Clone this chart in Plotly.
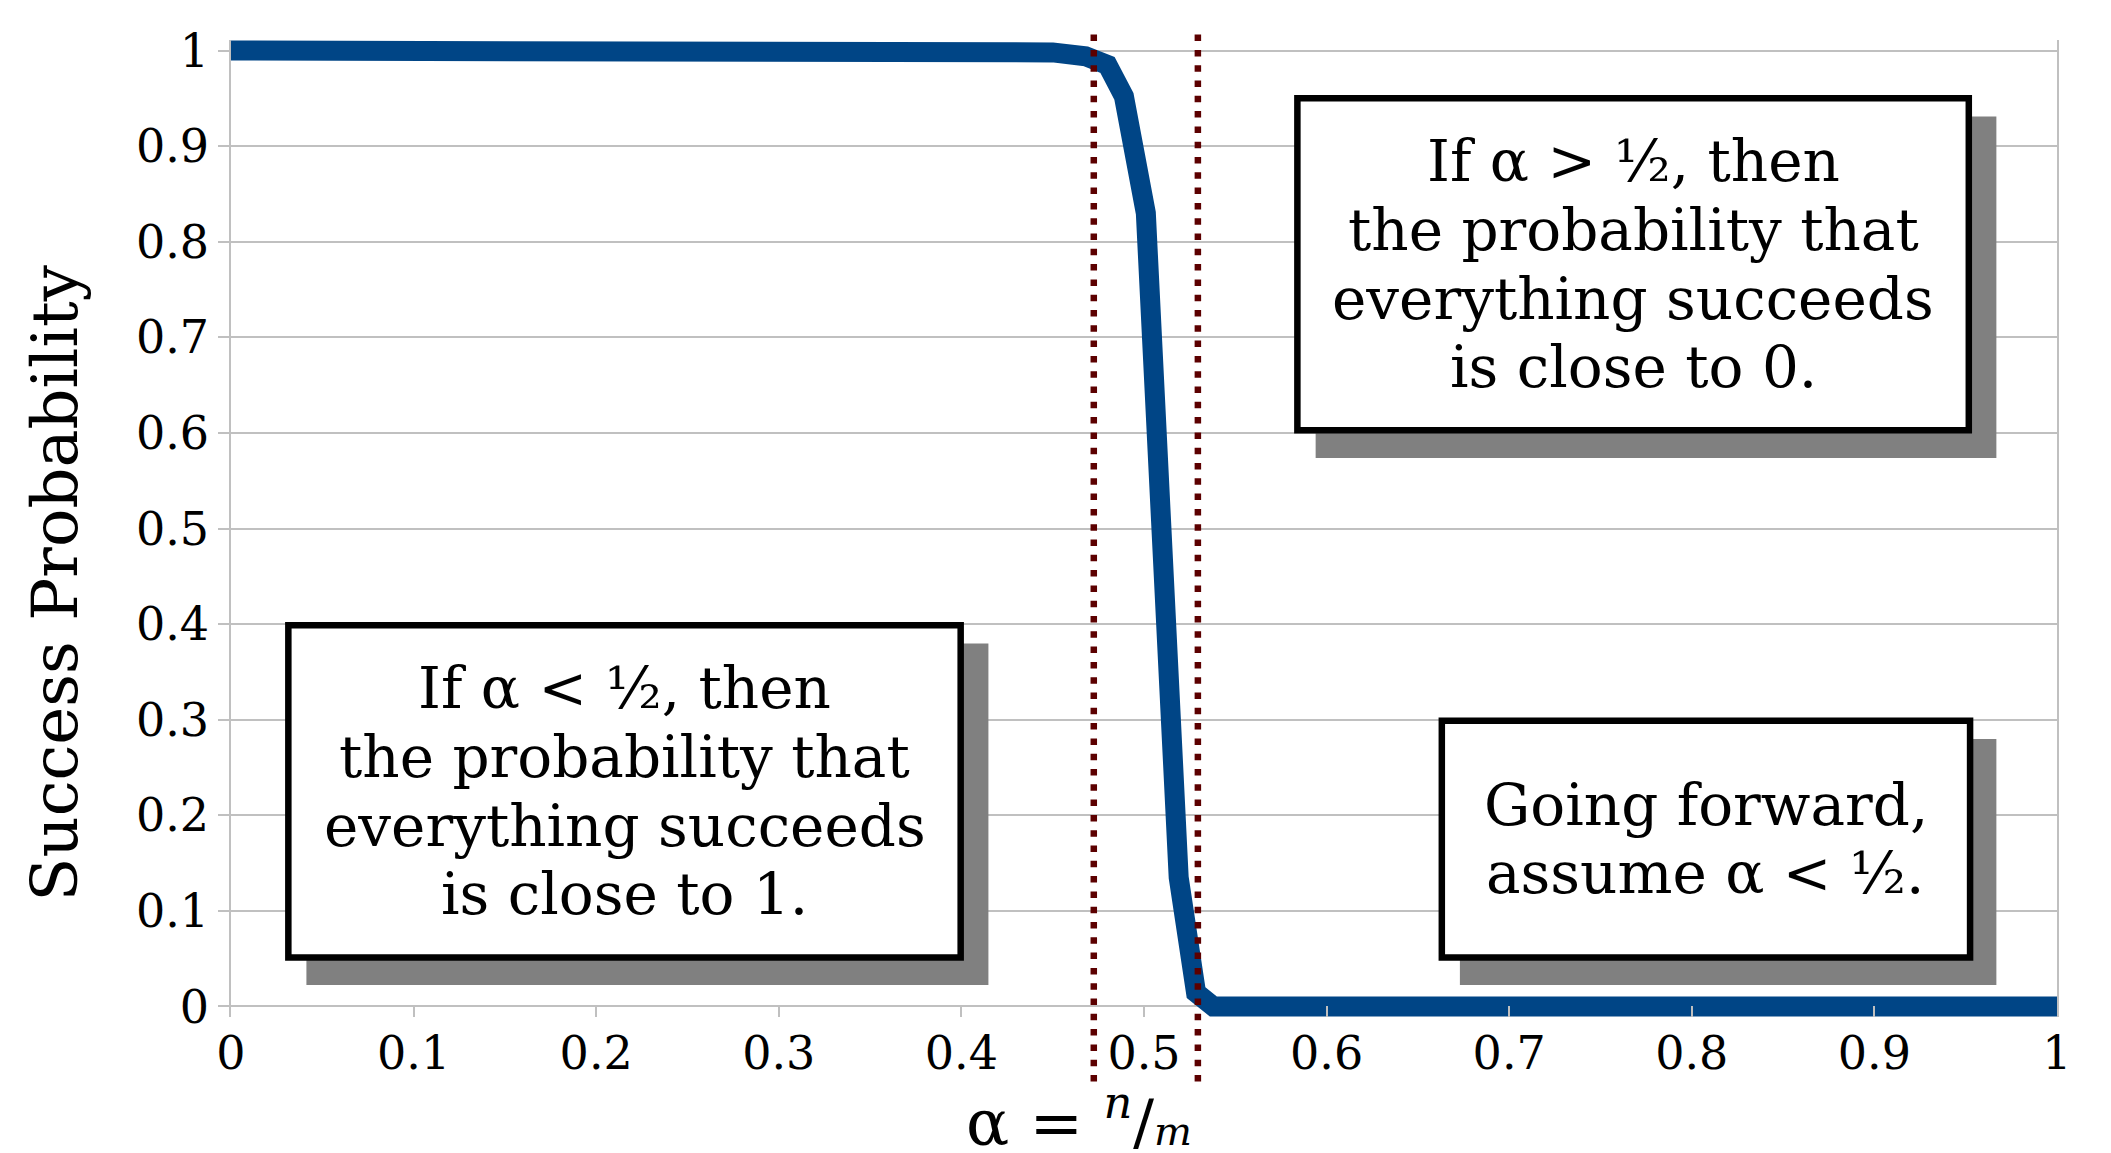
import plotly.graph_objects as go

# ---- data ----
alpha = [0.0, 0.1, 0.2, 0.3, 0.4, 0.43, 0.45, 0.468, 0.48, 0.489, 0.501, 0.519, 0.5285, 0.538,
         0.6, 0.7, 0.8, 0.9, 1.0]
prob = [1.0, 1.0, 1.0, 1.0, 1.0, 1.0, 0.998, 0.994, 0.985, 0.952, 0.83, 0.135, 0.0146, 0.0,
        0.0, 0.0, 0.0, 0.0, 0.0]

x_ticks = [0, 0.1, 0.2, 0.3, 0.4, 0.5, 0.6, 0.7, 0.8, 0.9, 1]
x_tick_labels = ["0", "0.1", "0.2", "0.3", "0.4", "0.5", "0.6", "0.7", "0.8", "0.9", "1"]
y_ticks = [0, 0.1, 0.2, 0.3, 0.4, 0.5, 0.6, 0.7, 0.8, 0.9, 1]
y_tick_labels = ["0", "0.1", "0.2", "0.3", "0.4", "0.5", "0.6", "0.7", "0.8", "0.9", "1"]

threshold_lines = [0.4725, 0.5295]

box_left_lines = ["If α < ½, then", "the probability that", "everything succeeds", "is close to 1."]
box_right_top_lines = ["If α > ½, then", "the probability that", "everything succeeds", "is close to 0."]
box_right_bottom_lines = ["Going forward,", "assume α < ½."]

x_title = "α = <sup><i>n</i></sup>/<span style='font-size:40px'><i>m</i></span>"
y_title = "Success Probability"

# box geometry in data coords: (x0, x1, y0, y1), shadow (x0, x1, y0, y1)
boxes = [
    dict(lines=box_left_lines, rect=(0.0314, 0.3996, 0.0513, 0.3987), shadow=(0.0413, 0.4148, 0.0225, 0.3797)),
    dict(lines=box_right_top_lines, rect=(0.584, 0.9517, 0.6027, 0.950), shadow=(0.594, 0.9668, 0.5738, 0.931)),
    dict(lines=box_right_bottom_lines, rect=(0.6631, 0.9524, 0.0513, 0.2989), shadow=(0.673, 0.9668, 0.0225, 0.2799)),
]

FONT = "DejaVu Serif"
LINE_COLOR = "#004586"
DOT_COLOR = "#5c0000"
GRID = "#c0c0c0"

fig = go.Figure()
fig.add_trace(go.Scatter(x=alpha, y=prob, mode="lines",
                         line=dict(color=LINE_COLOR, width=20),
                         showlegend=False, hoverinfo="skip"))

shapes = []
annotations = []
line_spacing = 68.6
for b in boxes:
    sx0, sx1, sy0, sy1 = b["shadow"]
    shapes.append(dict(type="rect", xref="x", yref="y", x0=sx0, x1=sx1, y0=sy0, y1=sy1,
                       fillcolor="#808080", line=dict(width=0), layer="above"))
    x0, x1, y0, y1 = b["rect"]
    shapes.append(dict(type="rect", xref="x", yref="y", x0=x0, x1=x1, y0=y0, y1=y1,
                       fillcolor="white", line=dict(color="black", width=6.5), layer="above"))
    n = len(b["lines"])
    cx = (x0 + x1) / 2
    cy = (y0 + y1) / 2
    for i, t in enumerate(b["lines"]):
        annotations.append(dict(x=cx, y=cy, xref="x", yref="y", text=t, showarrow=False,
                                xanchor="center", yanchor="middle",
                                yshift=((n - 1) / 2 - i) * line_spacing,
                                font=dict(family=FONT, size=58, color="black")))

for xv in threshold_lines:
    shapes.append(dict(type="line", xref="x", yref="paper", x0=xv, x1=xv, y0=-0.066, y1=1.0107,
                       line=dict(color=DOT_COLOR, width=6.5, dash="6.5px,8.8px"), layer="above"))

annotations.append(dict(x=0.4644, y=-0.103, xref="paper", yref="paper", text=x_title,
                        showarrow=False, xanchor="center", yanchor="middle",
                        font=dict(family=FONT, size=64, color="black")))
annotations.append(dict(x=-0.0964, y=0.4438, xref="paper", yref="paper", text=y_title,
                        showarrow=False, xanchor="center", yanchor="middle", textangle=-90,
                        font=dict(family=FONT, size=64, color="black")))

fig.update_layout(
    width=2095, height=1141,
    margin=dict(l=223, r=46, t=31.5, b=131.5, pad=0),
    paper_bgcolor="white", plot_bgcolor="white",
    shapes=shapes, annotations=annotations,
    showlegend=False,
    xaxis=dict(range=[0, 1], tickvals=x_ticks, ticktext=x_tick_labels,
               showgrid=False, zeroline=False, showline=False,
               ticks="inside", ticklen=11, tickwidth=1.5, tickcolor=GRID,
               ticklabelstandoff=5,
               tickfont=dict(family=FONT, size=46, color="black")),
    yaxis=dict(range=[-0.011, 1.011], tickvals=y_ticks, ticktext=y_tick_labels,
               showgrid=True, gridcolor=GRID, gridwidth=1.5, zeroline=False,
               showline=True, linecolor=GRID, linewidth=1.5, mirror=True,
               ticks="outside", ticklen=11, tickwidth=1.5, tickcolor=GRID,
               tickfont=dict(family=FONT, size=46, color="black")),
)

fig.write_html("out.html")
